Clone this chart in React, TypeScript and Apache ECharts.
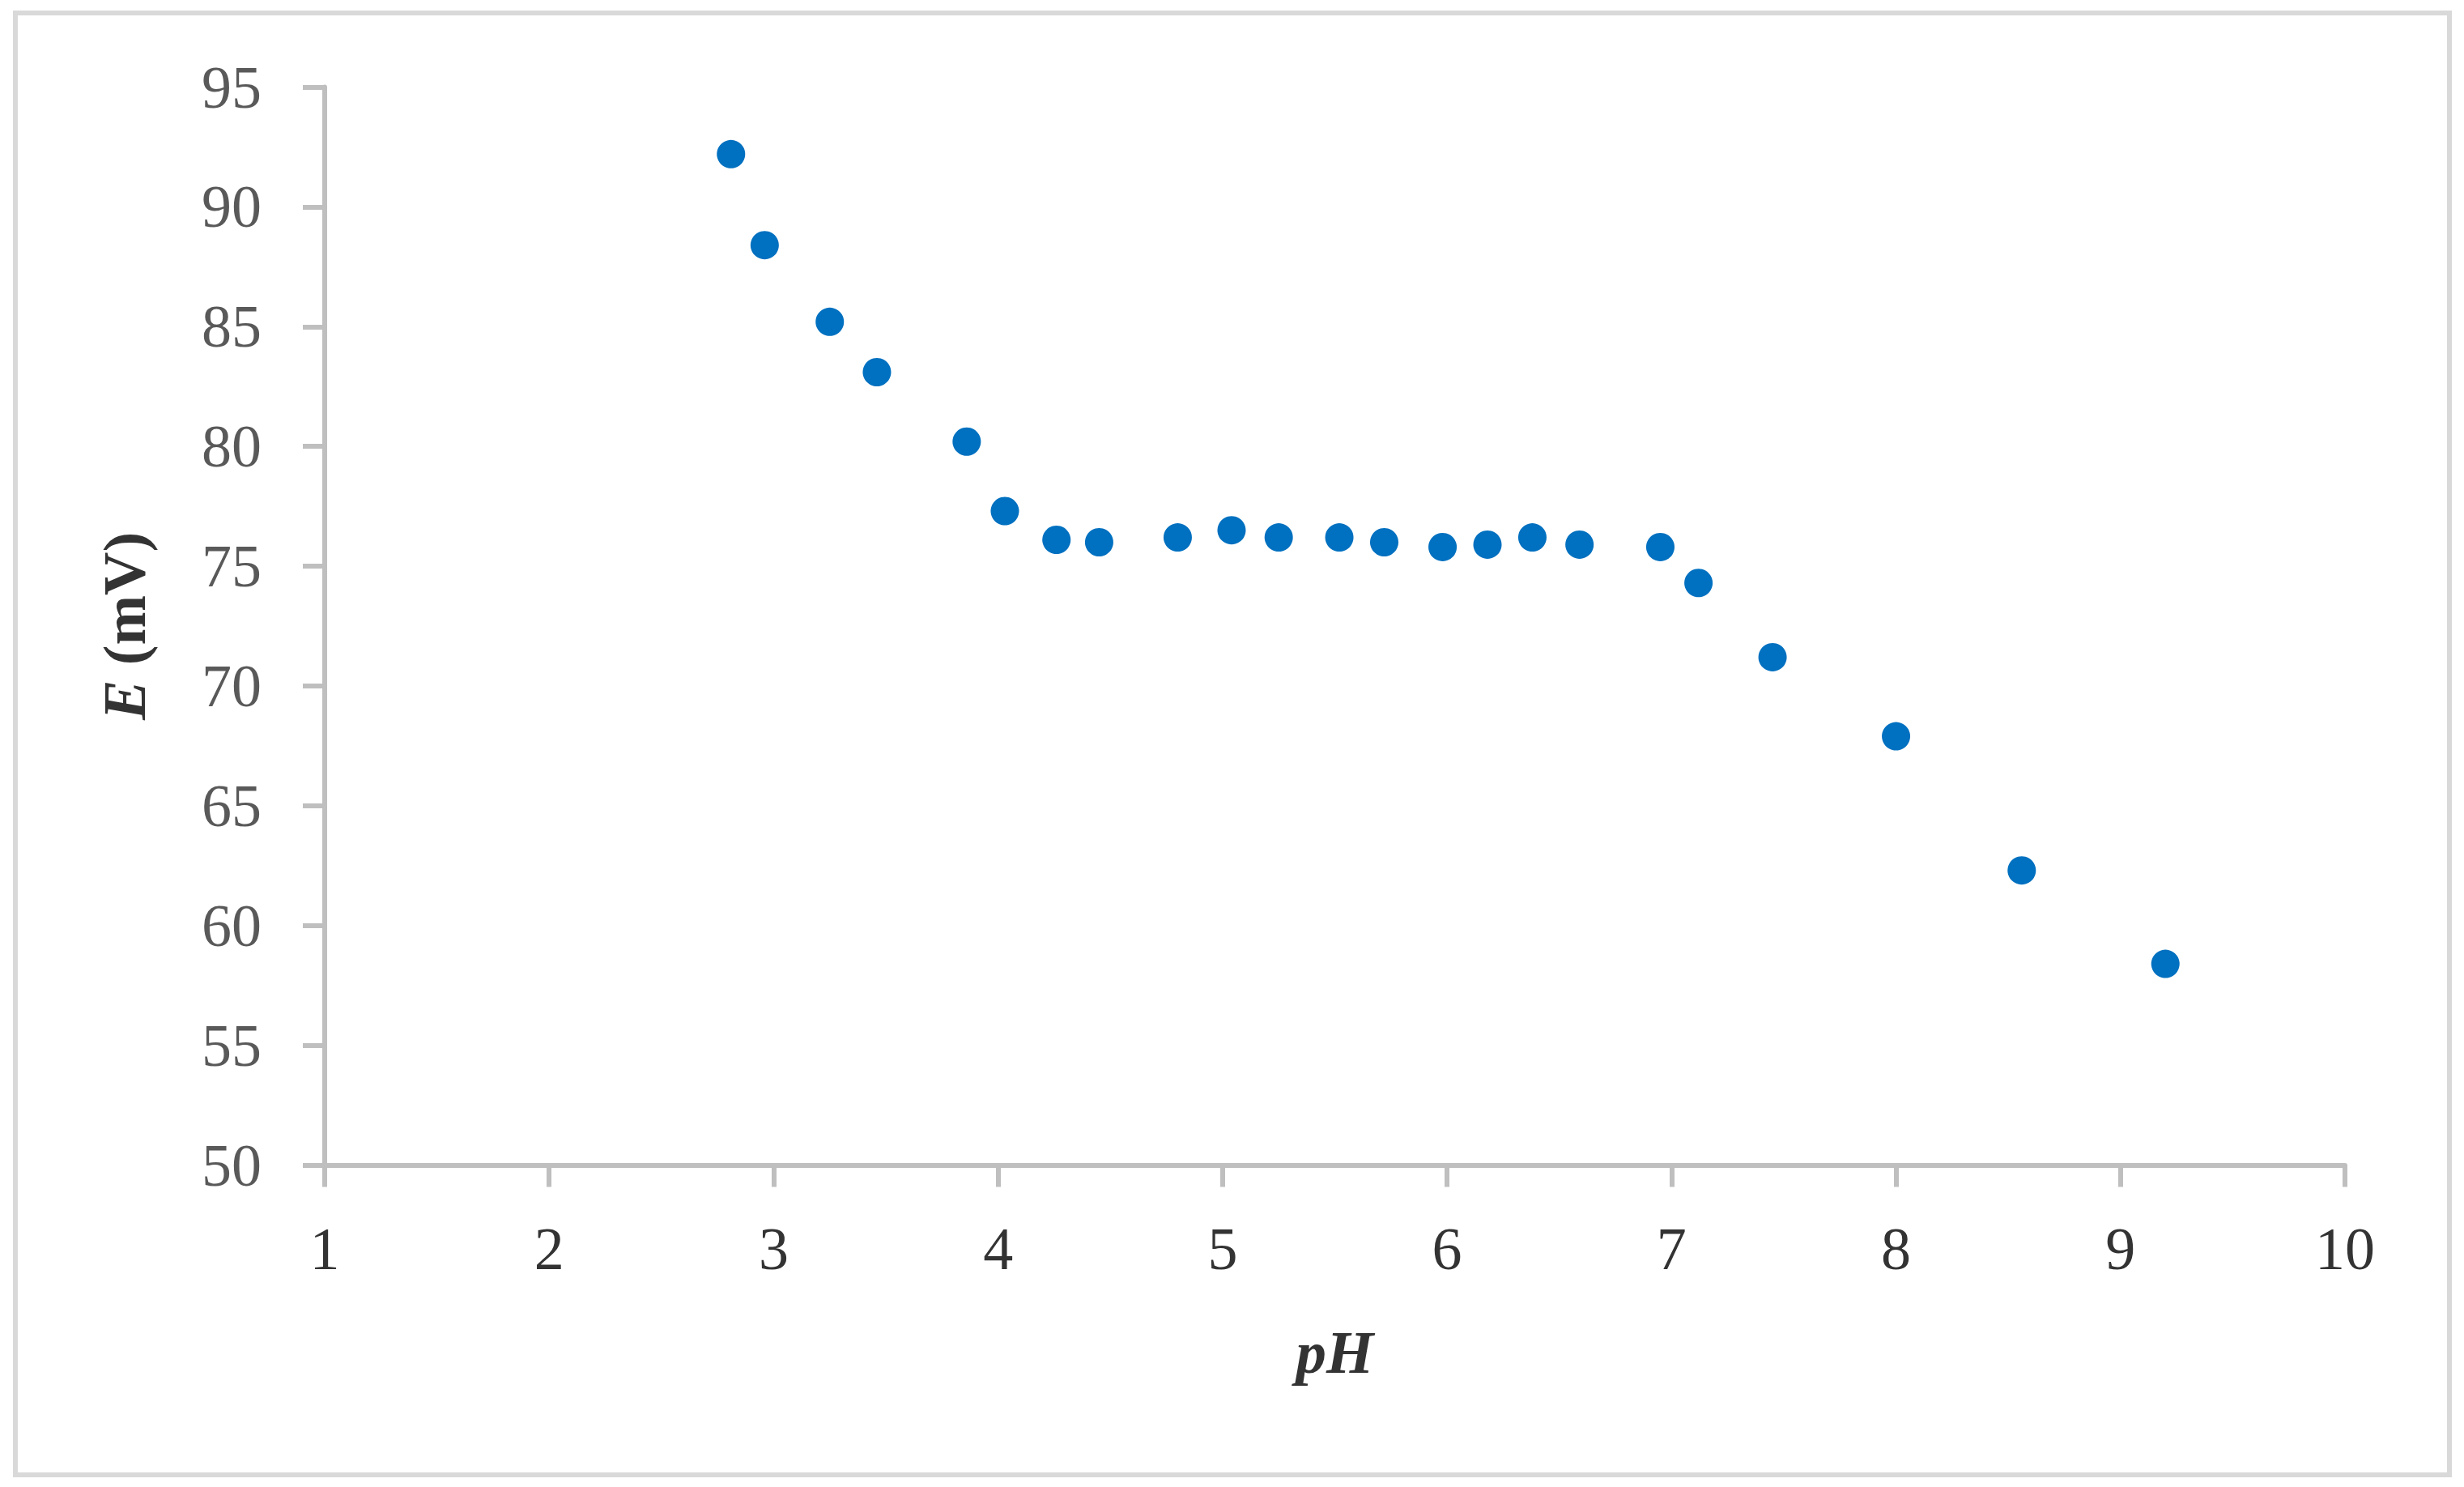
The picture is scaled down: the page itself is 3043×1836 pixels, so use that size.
import React, { useEffect, useRef } from "react";
import * as echarts from "echarts";

const phValues = [2.81, 2.96, 3.25, 3.46, 3.86, 4.03, 4.26, 4.45, 4.8, 5.04, 5.25, 5.52, 5.72, 5.98, 6.18, 6.38, 6.59, 6.95, 7.12, 7.45, 8.0, 8.56, 9.2];
const eValues = [92.2, 88.4, 85.2, 83.1, 80.2, 77.3, 76.1, 76.0, 76.2, 76.5, 76.2, 76.2, 76.0, 75.8, 75.9, 76.2, 75.9, 75.8, 74.3, 71.2, 67.9, 62.3, 58.4];

const xTicks = { min: 1, max: 10, interval: 1 };
const yTicks = { min: 50, max: 95, interval: 5 };

const FONT = "'Liberation Serif', 'DejaVu Serif', serif";

export default function App() {
  const ref = useRef<HTMLDivElement>(null);

  useEffect(() => {
    if (!ref.current) return;
    const chart = echarts.init(ref.current, undefined, { renderer: "svg" });
    const points = phValues.map((x, i) => [x, eValues[i]]);
    chart.setOption({
      animation: false,
      backgroundColor: "#ffffff",
      graphic: [
        {
          type: "rect",
          shape: { x: 19, y: 16, width: 3006, height: 1805 },
          style: { fill: "none", stroke: "#d9d9d9", lineWidth: 6 },
          silent: true,
        },
      ],
      grid: { left: 401, right: 147, top: 107.5, bottom: 397.5, containLabel: false },
      xAxis: {
        type: "value",
        min: xTicks.min,
        max: xTicks.max,
        interval: xTicks.interval,
        name: "pH",
        nameLocation: "middle",
        nameGap: 193,
        nameTextStyle: {
          fontFamily: FONT,
          fontSize: 75,
          fontStyle: "italic",
          fontWeight: "bold",
          color: "#333333",
        },
        axisLine: { show: true, lineStyle: { color: "#bfbfbf", width: 6 } },
        axisTick: { show: true, length: 27, inside: false, lineStyle: { color: "#bfbfbf", width: 6 } },
        axisLabel: { fontFamily: FONT, fontSize: 74, color: "#333333", margin: 66 },
        splitLine: { show: false },
      },
      yAxis: {
        type: "value",
        min: yTicks.min,
        max: yTicks.max,
        interval: yTicks.interval,
        name: "{i|E} (mV)",
        nameLocation: "middle",
        nameGap: 210,
        nameRotate: 90,
        nameTextStyle: {
          fontFamily: FONT,
          fontSize: 74,
          fontWeight: "bold",
          color: "#333333",
          rich: {
            i: {
              fontFamily: FONT,
              fontSize: 74,
              fontWeight: "bold",
              fontStyle: "italic",
              color: "#333333",
            },
          },
        },
        axisLine: { show: true, lineStyle: { color: "#bfbfbf", width: 6 } },
        axisTick: { show: true, length: 27, inside: false, lineStyle: { color: "#bfbfbf", width: 6 } },
        axisLabel: { fontFamily: FONT, fontSize: 74, color: "#595959", margin: 78 },
        splitLine: { show: false },
      },
      series: [
        {
          type: "scatter",
          data: points,
          symbol: "circle",
          symbolSize: 35,
          itemStyle: { color: "#0070c0", opacity: 1 },
        },
      ],
    });
    return () => chart.dispose();
  }, []);

  return (
    <div
      ref={ref}
      style={{ position: "fixed", left: 0, top: 0, width: 3043, height: 1836, background: "#ffffff" }}
    />
  );
}
